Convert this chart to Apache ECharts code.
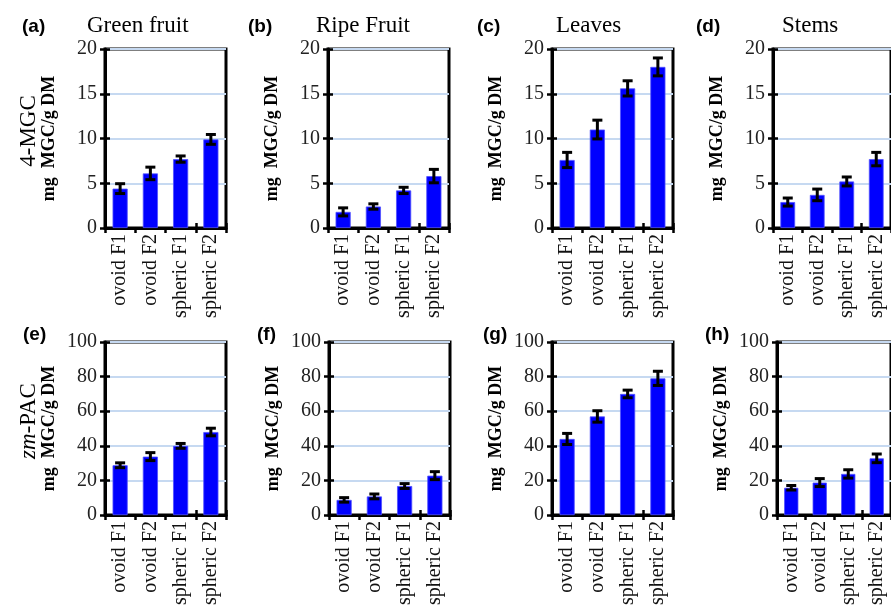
<!DOCTYPE html>
<html>
<head>
<meta charset="utf-8">
<script src="https://cdn.jsdelivr.net/npm/echarts@6/dist/echarts.min.js"></script>
<style>
html,body{margin:0;padding:0;background:#fff;}
#chart{width:891px;height:608px;}
</style>
</head>
<body>
<div id="chart"></div>
<script>
// ---- data ----
const categories = ['ovoid F1', 'ovoid F2', 'spheric F1', 'spheric F2'];
const panelLetters = ['(a)', '(b)', '(c)', '(d)', '(e)', '(f)', '(g)', '(h)'];
const tissueTitles = ['Green fruit', 'Ripe Fruit', 'Leaves', 'Stems'];
const rowNames = ['4-MGC', 'zm-PAC'];
const yAxisName = 'mg  MGC/g DM';
const mgcTicks = [0, 5, 10, 15, 20];
const pacTicks = [0, 20, 40, 60, 80, 100];

const greenFruitMGC = [4.4, 6.1, 7.7, 9.9];
const greenFruitMGCErr = [0.55, 0.7, 0.35, 0.55];
const ripeFruitMGC = [1.8, 2.4, 4.2, 5.8];
const ripeFruitMGCErr = [0.45, 0.3, 0.35, 0.75];
const leavesMGC = [7.6, 11.0, 15.6, 18.0];
const leavesMGCErr = [0.85, 1.05, 0.85, 1.0];
const stemsMGC = [2.9, 3.7, 5.2, 7.7];
const stemsMGCErr = [0.45, 0.65, 0.5, 0.75];

const greenFruitPAC = [28.8, 33.8, 40.0, 48.0];
const greenFruitPACErr = [1.4, 2.3, 1.4, 2.2];
const ripeFruitPAC = [8.8, 10.8, 16.8, 22.8];
const ripeFruitPACErr = [1.3, 1.4, 1.4, 2.3];
const leavesPAC = [44.0, 57.0, 70.0, 79.0];
const leavesPACErr = [3.2, 3.3, 2.2, 4.1];
const stemsPAC = [15.8, 18.8, 23.8, 32.8];
const stemsPACErr = [1.3, 2.3, 2.4, 2.5];

const panelValues = [greenFruitMGC, ripeFruitMGC, leavesMGC, stemsMGC,
                     greenFruitPAC, ripeFruitPAC, leavesPAC, stemsPAC];
const panelErrors = [greenFruitMGCErr, ripeFruitMGCErr, leavesMGCErr, stemsMGCErr,
                     greenFruitPACErr, ripeFruitPACErr, leavesPACErr, stemsPACErr];

// ---- layout ----
const SERIF = 'Liberation Serif';
const SANS = 'Liberation Sans';
const lefts = [105, 328, 552, 773, 105, 329, 552, 777];
const tops = [49, 49, 49, 49, 342, 342, 342, 342];
const heights = [179, 179, 179, 179, 177, 177, 177, 177];
const W = 121;

const grids = [], xAxes = [], yAxes = [], series = [];
for (let i = 0; i < 8; i++) {
  const ticks = i < 4 ? mgcTicks : pacTicks;
  const maxV = ticks[ticks.length - 1];
  const step = ticks[1] - ticks[0];
  grids.push({left: lefts[i], top: tops[i], width: W, height: heights[i],
    show: true, borderColor: '#000', borderWidth: 3, backgroundColor: 'transparent'});
  xAxes.push({type: 'category', gridIndex: i, data: categories, position: 'bottom',
    boundaryGap: true,
    axisLine: {show: true, lineStyle: {color: '#000', width: 3}},
    axisTick: {show: true, alignWithLabel: false, length: 5, lineStyle: {color: '#000', width: 2.5}},
    axisLabel: {rotate: 90, margin: 6, color: '#111', fontFamily: SERIF, fontSize: 20, interval: 0},
    splitLine: {show: false}});
  xAxes.push({type: 'category', gridIndex: i, data: categories, position: 'bottom',
    boundaryGap: true,
    axisLine: {show: false},
    axisTick: {show: true, inside: true, alignWithLabel: false, length: 5, lineStyle: {color: '#000', width: 2.5}},
    axisLabel: {show: false}, splitLine: {show: false}});
  yAxes.push({type: 'value', gridIndex: i, min: 0, max: maxV, interval: step, position: 'left',
    name: yAxisName, nameLocation: 'middle', nameRotate: 90, nameGap: 47,
    nameTextStyle: {fontFamily: SERIF, fontWeight: 'bold', fontSize: 18, color: '#000'},
    axisLine: {show: true, lineStyle: {color: '#000', width: 3}},
    axisTick: {show: true, length: 5, lineStyle: {color: '#000', width: 2.5}},
    axisLabel: {margin: 8, color: '#222', fontFamily: SERIF, fontSize: 20},
    splitLine: {show: true, lineStyle: {color: '#c6d9f1', width: 2}}});
  yAxes.push({type: 'value', gridIndex: i, min: 0, max: maxV, interval: step, position: 'left',
    axisLine: {show: false},
    axisTick: {show: true, inside: true, length: 5, lineStyle: {color: '#000', width: 2.5}},
    axisLabel: {show: false}, splitLine: {show: false}});

  series.push({type: 'bar', xAxisIndex: 2 * i, yAxisIndex: 2 * i, data: panelValues[i],
    barWidth: '50%', itemStyle: {color: '#0000ff', borderColor: '#5050ff', borderWidth: 0.8},
    silent: true, animation: false});
  const errData = panelValues[i].map((v, k) => [k, v, panelErrors[i][k]]);
  series.push({type: 'custom', xAxisIndex: 2 * i, yAxisIndex: 2 * i, data: errData,
    animation: false, silent: true, z: 10,
    renderItem: function (params, api) {
      const x = api.value(0), v = api.value(1), e = api.value(2);
      const hi = api.coord([x, v + e]);
      const lo = api.coord([x, v - e]);
      const cap = 5;
      const st = {stroke: '#000', lineWidth: 3};
      return {type: 'group', children: [
        {type: 'line', shape: {x1: hi[0], y1: hi[1], x2: lo[0], y2: lo[1]}, style: st},
        {type: 'line', shape: {x1: hi[0] - cap, y1: hi[1], x2: hi[0] + cap, y2: hi[1]}, style: st},
        {type: 'line', shape: {x1: lo[0] - cap, y1: lo[1], x2: lo[0] + cap, y2: lo[1]}, style: st}
      ]};
    }});
}

// ---- text graphics ----
const letterPos = [[22, 28], [248, 28], [477, 28], [696, 28], [23, 336], [257, 336], [483, 336], [705, 336]];
const titlePos = [[87, 27], [316, 27], [556, 27], [782, 27]];
const graphics = [];
letterPos.forEach((p, i) => {
  graphics.push({type: 'text', left: p[0], top: p[1] - 11,
    style: {text: panelLetters[i], fontFamily: SANS, fontWeight: 'bold', fontSize: 19, fill: '#000'}});
});
titlePos.forEach((p, i) => {
  graphics.push({type: 'text', left: p[0], top: p[1] - 13,
    style: {text: tissueTitles[i], fontFamily: SERIF, fontSize: 23, fill: '#000'}});
});
graphics.push({type: 'text', x: 29, y: 131, rotation: Math.PI / 2,
  style: {text: rowNames[0], fontFamily: SERIF, fontSize: 23, fill: '#000', align: 'center', verticalAlign: 'middle'}});
graphics.push({type: 'text', x: 29, y: 421, rotation: Math.PI / 2,
  style: {text: '{i|zm}{r|-PAC}', align: 'center', verticalAlign: 'middle',
    rich: {i: {fontStyle: 'italic', fontFamily: SERIF, fontSize: 23, fill: '#000', color: '#000'},
           r: {fontFamily: SERIF, fontSize: 23, fill: '#000', color: '#000'}}}});

const chart = echarts.init(document.getElementById('chart'), null, {renderer: 'canvas'});
chart.setOption({
  animation: false,
  backgroundColor: '#fff',
  grid: grids, xAxis: xAxes, yAxis: yAxes, series: series, graphic: graphics
});
</script>
</body>
</html>
